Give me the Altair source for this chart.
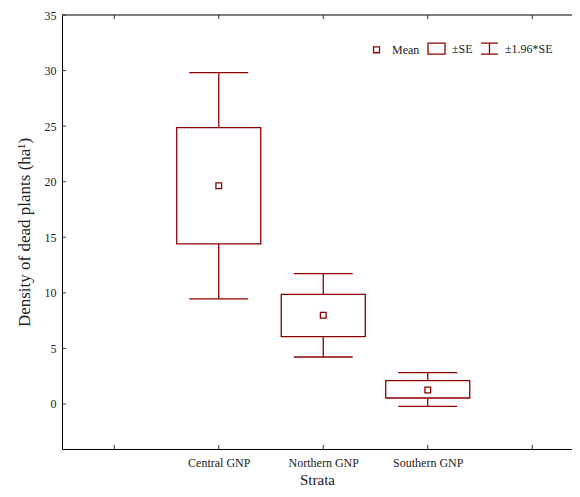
import altair as alt
import pandas as pd

# ---- data ----
strata = ["Central GNP", "Northern GNP", "Southern GNP"]
positions = [2, 3, 4]
means = [19.64, 7.98, 1.26]
se_low = [14.40, 6.06, 0.54]
se_high = [24.86, 9.87, 2.10]
ci_low = [9.45, 4.23, -0.21]
ci_high = [29.81, 11.73, 2.82]

x_tick_values = [1, 2, 3, 4, 5]
y_tick_values = [0, 5, 10, 15, 20, 25, 30, 35]
legend_items = ["Mean", "\u00b1SE", "\u00b11.96*SE"]

W, H = 510, 434
X_MIN = 0.5
X_MAX = X_MIN + W / 104.5
Y_MIN, Y_MAX = -4.05, 35
RED = "#8B0000"

df = pd.DataFrame({
    "strata": strata, "pos": positions, "mean": means,
    "se_lo": se_low, "se_hi": se_high, "ci_lo": ci_low, "ci_hi": ci_high,
})

xscale = alt.Scale(domain=[X_MIN, X_MAX], nice=False, zero=False)
yscale = alt.Scale(domain=[Y_MIN, Y_MAX], nice=False, zero=False)

label_expr = ("datum.value == 2 ? 'Central GNP' : datum.value == 3 ? 'Northern GNP' : "
              "datum.value == 4 ? 'Southern GNP' : ''")

base = alt.Chart(df)

whisker = base.mark_rule(color=RED, strokeWidth=1.3).encode(
    x=alt.X("pos:Q", scale=xscale,
            axis=alt.Axis(values=x_tick_values, labelExpr=label_expr, ticks=False,
                          grid=False, domainColor="black", domainWidth=1,
                          labelPadding=8, labelFontSize=12, labelColor="#222",
                          title="Strata", titleFontSize=15, titleFontWeight="normal",
                          titlePadding=4, titleColor="#222", labelFlush=False,
                          labelOverlap=False)),
    y=alt.Y("ci_lo:Q", scale=yscale,
            axis=alt.Axis(values=y_tick_values, ticks=False, grid=False,
                          domainColor="black", domainWidth=1, labelPadding=6,
                          labelFontSize=12, labelColor="#222",
                          title="Density of dead plants (ha\u00b9)", titleFontSize=17,
                          titleFontWeight="normal", titlePadding=11, titleColor="#222")),
    y2="ci_hi:Q",
)

caps_hi = base.transform_calculate(
    xa="datum.pos - 0.282", xb="datum.pos + 0.282"
).mark_rule(color=RED, strokeWidth=1.3).encode(
    x=alt.X("xa:Q", scale=xscale), x2="xb:Q", y=alt.Y("ci_hi:Q", scale=yscale))

caps_lo = base.transform_calculate(
    xa="datum.pos - 0.282", xb="datum.pos + 0.282"
).mark_rule(color=RED, strokeWidth=1.3).encode(
    x=alt.X("xa:Q", scale=xscale), x2="xb:Q", y=alt.Y("ci_lo:Q", scale=yscale))

box = base.transform_calculate(
    xa="datum.pos - 0.402", xb="datum.pos + 0.402"
).mark_rect(fill="white", stroke=RED, strokeWidth=1.3).encode(
    x=alt.X("xa:Q", scale=xscale), x2="xb:Q",
    y=alt.Y("se_lo:Q", scale=yscale), y2="se_hi:Q")

mean_pt = base.mark_point(shape="square", filled=True, fill="white", stroke=RED,
                          strokeWidth=1.3, size=32, opacity=1).encode(
    x=alt.X("pos:Q", scale=xscale), y=alt.Y("mean:Q", scale=yscale))

# frame: top line and inward ticks
top_line = alt.Chart(pd.DataFrame({"a": [0]})).mark_rule(color="black", strokeWidth=1).encode(
    x=alt.datum(X_MIN, scale=xscale), x2=alt.datum(X_MAX), y=alt.value(0))

xt = pd.DataFrame({"v": x_tick_values})
yt = pd.DataFrame({"v": y_tick_values})
bottom_ticks = alt.Chart(xt).mark_rule(color="#333", strokeWidth=1).encode(
    x=alt.X("v:Q", scale=xscale), y=alt.value(H), y2=alt.value(H - 4))
top_ticks = alt.Chart(xt).mark_rule(color="#333", strokeWidth=1).encode(
    x=alt.X("v:Q", scale=xscale), y=alt.value(0), y2=alt.value(4))
left_ticks = alt.Chart(yt).mark_rule(color="#333", strokeWidth=1).encode(
    y=alt.Y("v:Q", scale=yscale), x=alt.value(0), x2=alt.value(4))

legend_df = pd.DataFrame({"item": legend_items})
legend_layer = alt.Chart(legend_df).mark_point(filled=False, color=RED, opacity=0).encode(
    shape=alt.Shape("item:N",
                    scale=alt.Scale(domain=legend_items,
                                    range=["M-0.35,-0.35H0.35V0.35H-0.35Z",
                                           "M-1,-0.65H1V0.65H-1Z",
                                           "M-1,-0.65H1M0,-0.65V0.65M-1,0.65H1"]),
                    legend=alt.Legend(title=None, orient="none", direction="horizontal",
                                      legendX=305, legendY=24, symbolSize=289,
                                      symbolStrokeColor=RED, symbolStrokeWidth=1.3,
                                      symbolFillColor="white", symbolOpacity=1,
                                      labelFontSize=12, labelColor="#222",
                                      labelOffset=6, columnPadding=5, padding=0)),
)

chart = alt.layer(
    whisker, caps_hi, caps_lo, box, mean_pt,
    top_line, bottom_ticks, top_ticks, left_ticks, legend_layer
).properties(
    width=W, height=H,
    autosize=alt.AutoSizeParams(type="none"),
    padding={"left": 54, "top": 7, "right": 0, "bottom": 40},
    background="white",
).configure(font="Liberation Serif").configure_view(stroke=None)

chart.save("out.html", embed_options={"renderer": "svg", "actions": False})
